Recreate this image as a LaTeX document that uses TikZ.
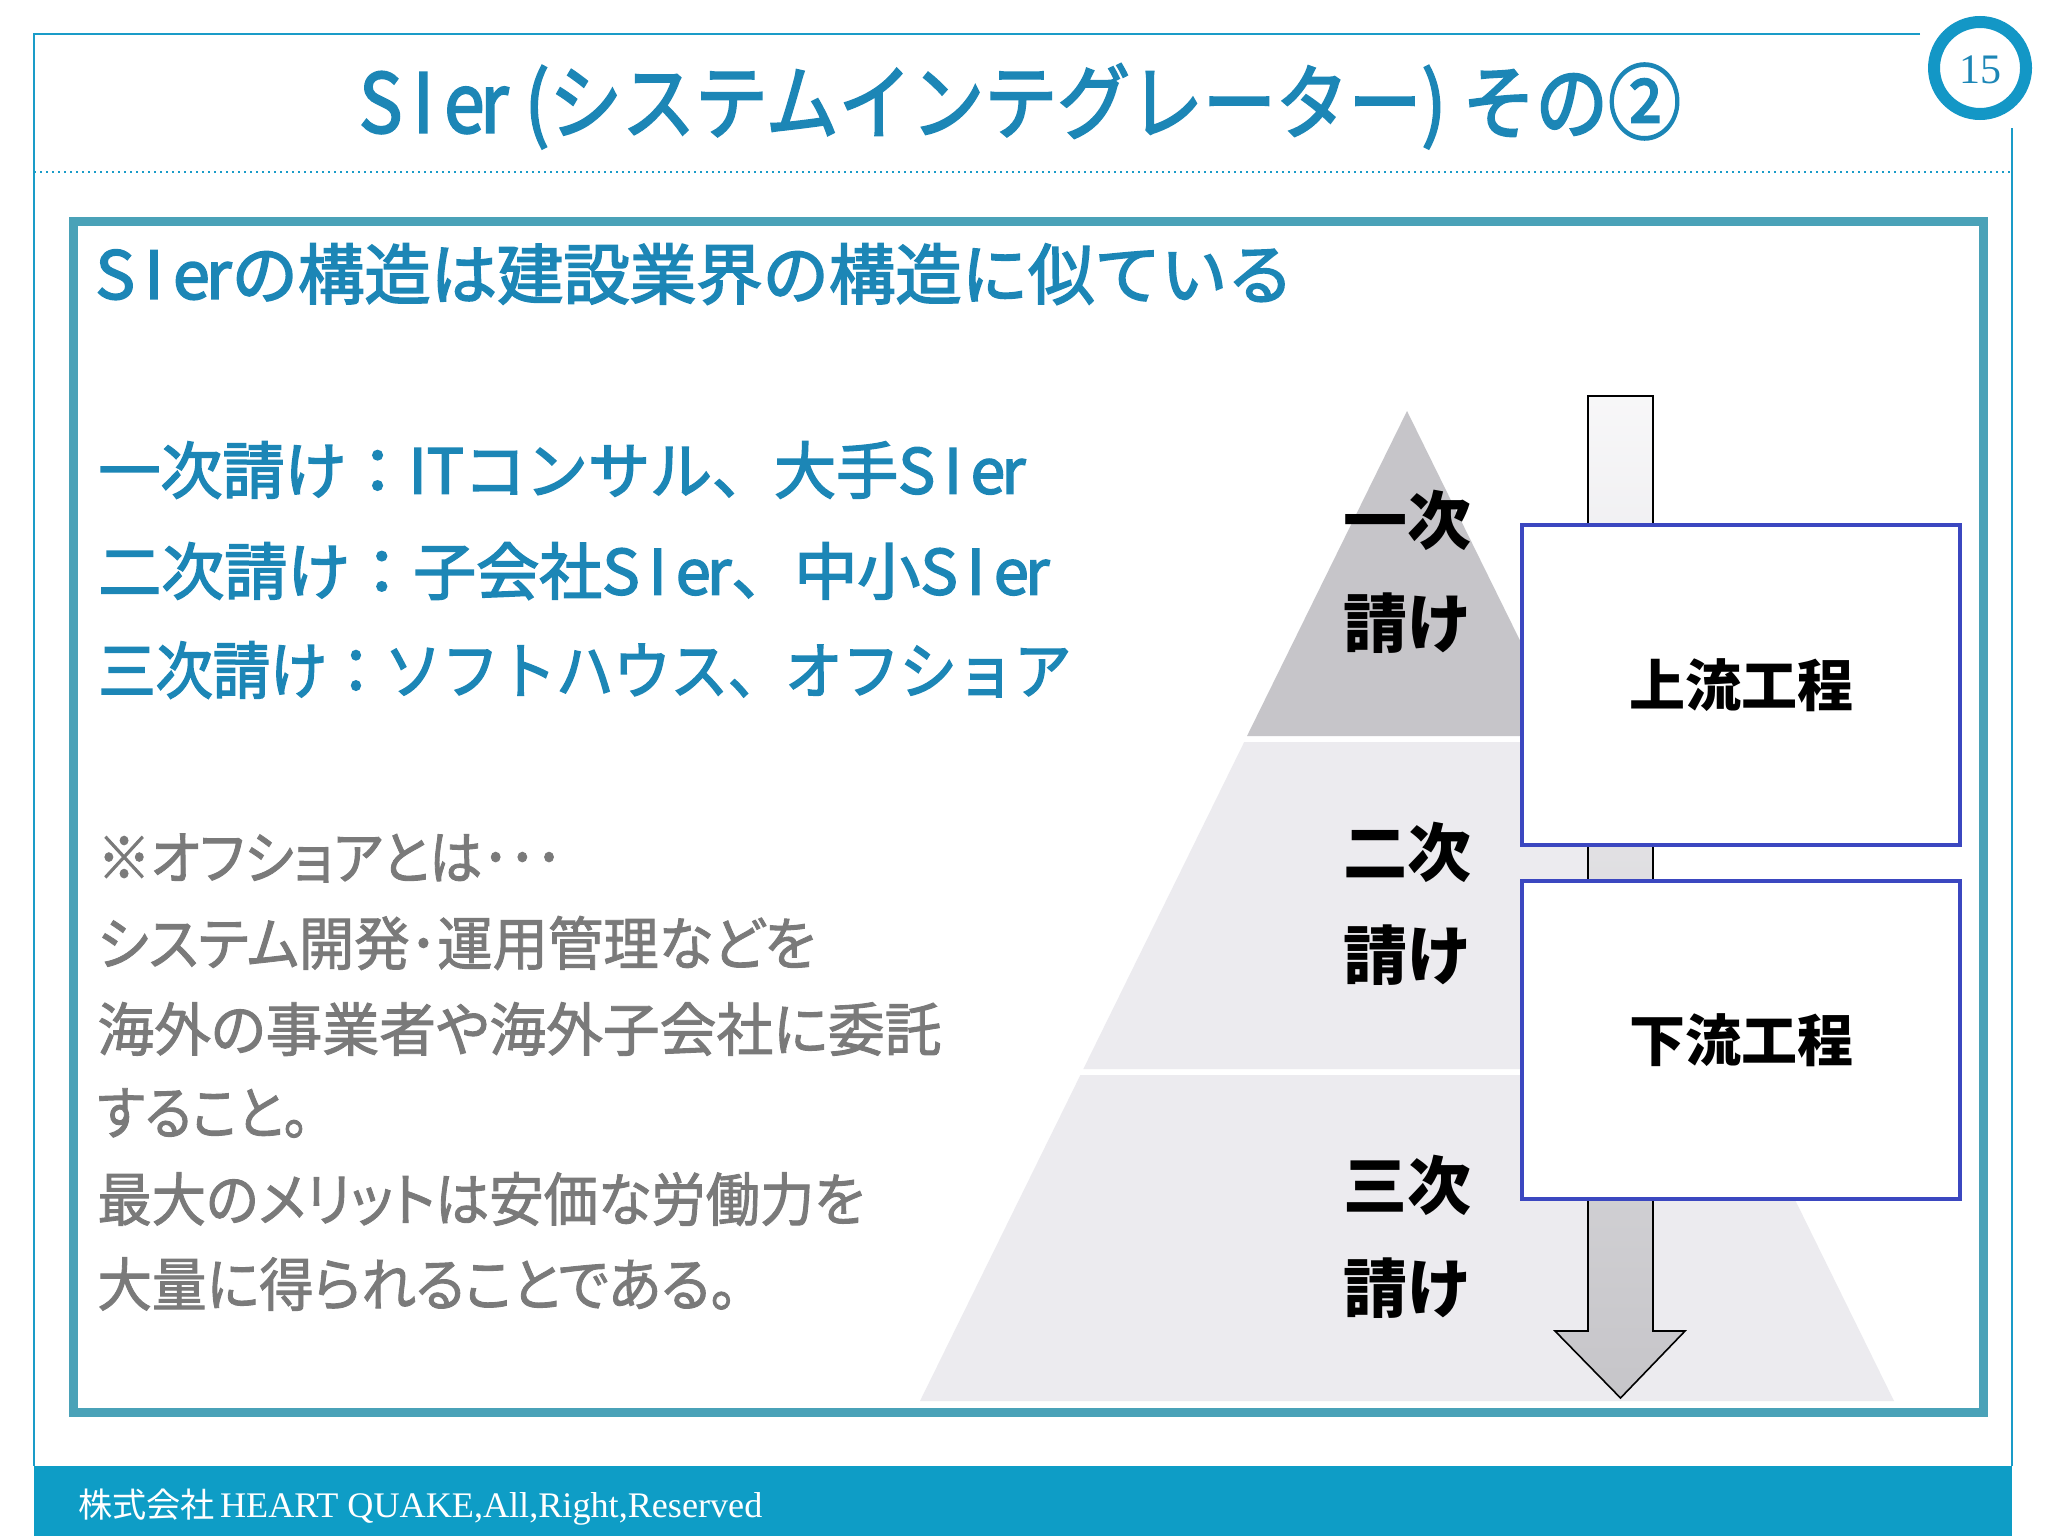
\documentclass[tikz,border=0pt]{standalone}
\usepackage{fontspec}
\usepackage{graphicx}
\setmainfont{Liberation Serif}
\newfontfamily\jp{Noto Sans CJK JP}
\newfontfamily\jpm{Noto Sans CJK JP}[FakeBold=2.6]
\newfontfamily\jpp{Noto Sans CJK JP}[FakeBold=1.6,RawFeature=+palt]
\newcommand{\fitw}[2]{\resizebox{#1}{\height}{#2}}
\newcommand{\sier}{{\addfontfeature{LetterSpace=14}SIe\kern-0.06em r}}
\definecolor{frame}{HTML}{1A9CC8}
\definecolor{ring}{HTML}{1397C6}
\definecolor{titleblue}{HTML}{1C86B6}
\definecolor{boxteal}{HTML}{4AA2B8}
\definecolor{footbar}{HTML}{0E9DC6}
\definecolor{graytext}{HTML}{7A7A7A}
\definecolor{pyrtop}{HTML}{C6C5C9}
\definecolor{pyrlow}{HTML}{ECEBEF}
\definecolor{procblue}{HTML}{3B47C0}
\tikzset{
  frameline/.style={draw=frame, line width=1.25pt},
  listtext/.style={anchor=west, inner sep=0pt, text=titleblue},
  graytxt/.style={anchor=west, inner sep=0pt, text=graytext},
  tierlabel/.style={align=center, inner sep=0pt, font=\jp\bfseries\fontsize{32}{51.5}\selectfont},
  procbox/.style={draw=procblue, line width=2.2pt, fill=white, minimum width=219pt, inner sep=0pt, font=\jp\bfseries\fontsize{28}{28}\selectfont}
}
\newcommand{\gl}[2]{\fitw{#1}{\jpp\fontsize{29}{29}\selectfont #2}}
\begin{document}
\begin{tikzpicture}[x=0.5pt,y=-0.5pt]
\useasboundingbox (0,0) rectangle (2048,1536);
\fill[white] (0,0) rectangle (2048,1536);
% page frame
\draw[frameline] (1920,34) -- (34,34) -- (34,1466);
\draw[frameline] (2012,128) -- (2012,1466);
\draw[draw=frame, line width=1pt, dotted] (34,172) -- (2012,172);
% page number
\node[circle, draw=ring, line width=6pt, minimum size=46pt, inner sep=0pt] (pg) at (1980,68) {};
\node[text=titleblue, font=\fontsize{21}{21}\selectfont] (pgnum) at (1980,70) {15};
% title
\node[inner sep=0pt, text=titleblue] (title) at (1020,106)
  {\fitw{661pt}{\jpm\fontsize{41}{41}\selectfont \sier\ (システムインテグレーター) その②}};
% inner box
\draw[draw=boxteal, line width=4.5pt] (73.5,221) rectangle (1983,1412.5);
% subheading
\node[listtext] (sub) at (95,274)
  {\fitw{599pt}{\jpm\fontsize{33}{33}\selectfont \sier の構造は建設業界の構造に似ている}};
% list
\node[listtext] (l1) at (98,470)
  {\fitw{463.5pt}{\jpm\fontsize{31}{31}\selectfont 一次請け：ITコンサル、大手\sier}};
\node[listtext] (l2) at (98,571)
  {\fitw{475.5pt}{\jpm\fontsize{31}{31}\selectfont 二次請け：子会社\sier、中小\sier}};
\node[listtext] (l3) at (98,670)
  {\fitw{486.5pt}{\jpm\fontsize{31}{31}\selectfont 三次請け：ソフトハウス、オフショア}};
% gray notes
\node[graytxt] (g1) at (97,858) {\gl{232.5pt}{※オフショアとは･･･}};
\node[graytxt] (g2) at (97,943) {\gl{359pt}{システム開発･運用管理などを}};
\node[graytxt] (g3) at (97,1029) {\gl{422pt}{海外の事業者や海外子会社に委託}};
\node[graytxt] (g4) at (97,1113) {\gl{106pt}{すること。}};
\node[graytxt] (g5) at (97,1199) {\gl{383.5pt}{最大のメリットは安価な労働力を}};
\node[graytxt] (g6) at (97,1284) {\gl{320pt}{大量に得られることである。}};
% pyramid
\fill[pyrtop] (1407,411) -- (1567,736) -- (1247,736) -- cycle;
\fill[pyrlow] (1244.2,742) -- (1569.8,742) -- (1730.7,1069) -- (1083.3,1069) -- cycle;
\fill[pyrlow] (1080.4,1075) -- (1733.6,1075) -- (1894,1401) -- (920,1401) -- cycle;
% arrow
\draw[line width=0.8pt, top color=white!60!pyrlow, bottom color=pyrtop]
  (1588,396) -- (1653,396) -- (1653,1331) -- (1685,1331) -- (1620.5,1398)
  -- (1555,1331) -- (1588,1331) -- cycle;
% tier labels
\node[tierlabel] (t1) at (1407,571.5) {一次\\請け};
\node[tierlabel] (t2) at (1407,903.5) {二次\\請け};
\node[tierlabel] (t3) at (1407,1236.5) {三次\\請け};
% process boxes
\node[procbox, minimum height=160pt] (up) at (1741,685) {上流工程};
\node[procbox, minimum height=159pt] (down) at (1741,1040) {下流工程};
% footer
\fill[footbar] (34,1466) rectangle (2012,1536);
\node[anchor=west, inner sep=0pt, text=white] (foot) at (78,1507)
  {\fitw{342pt}{{\jp\fontsize{17}{17}\selectfont 株式会社} \fontsize{18}{18}\selectfont HEART QUAKE,All,Right,Reserved}};
\end{tikzpicture}
\end{document}
